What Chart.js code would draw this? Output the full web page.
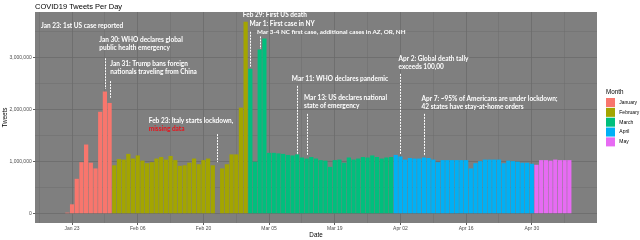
<!DOCTYPE html>
<html>
<head>
<meta charset="utf-8">
<script src="https://cdn.jsdelivr.net/npm/chart.js@4/dist/chart.umd.min.js"></script>
<style>
  body { margin: 0; background: #fff; }
  canvas { display: block; }
</style>
</head>
<body>
<canvas id="chart" width="640" height="240"></canvas>
<script>
// tweets per day (Feb 23 is missing in the source)
const months = ["January", "February", "March", "April", "May"];
const firstDay = ["2020-01-22", "2020-02-01", "2020-03-01", "2020-04-01", "2020-05-01"];
const colors = ["#F8766D", "#A3A500", "#00BF7D", "#00B0F6", "#E76BF3"];

const jan = [20000, 180000, 670000, 990000, 1330000, 980000, 870000, 1960000, 2350000, 2130000];
const feb = [930000, 1050000, 1040000, 1150000, 1060000, 1120000, 1020000, 970000, 990000, 1060000,
  1090000, 1040000, 1110000, 1030000, 920000, 930000, 980000, 1060000, 950000, 1030000,
  1060000, 930000, null, 870000, 950000, 1140000, 1140000, 2040000, 3690000];
const mar = [2790000, 1000000, 3160000, 3370000, 1170000, 1170000, 1160000, 1150000, 1130000, 1120000,
  1140000, 1080000, 1060000, 1090000, 1060000, 1030000, 1020000, 900000, 1030000, 1040000,
  980000, 1080000, 1040000, 1060000, 1090000, 1080000, 1120000, 1090000, 1060000, 1080000, 1090000];
const apr = [1130000, 1100000, 1040000, 1070000, 1060000, 1060000, 1080000, 1070000, 1040000, 990000,
  1030000, 1030000, 1030000, 1030000, 1030000, 1030000, 870000, 970000, 1010000, 1040000,
  1040000, 1040000, 1040000, 970000, 1020000, 1010000, 1000000, 980000, 980000, 960000];
const may = [940000, 1030000, 1030000, 1020000, 1040000, 1030000, 1030000, 1030000];
const series = [jan, feb, mar, apr, may];

// x axis counts days from Jan 23
const tickLabels = ["Jan 23", "Feb 06", "Feb 20", "Mar 05", "Mar 19", "Apr 02", "Apr 16", "Apr 30"];
const yTicks = [0, 500000, 1000000, 1500000, 2000000, 2500000, 3000000, 3500000];
const dayZero = Date.parse("2020-01-23");
function dayOf(d) { return Math.round((Date.parse(d) - dayZero) / 86400000); }

// event notes: text anchor (day, tweets) and the dashed line under it
const notes = [
  { tx: -6.6, ty: 3620000, text: ["Jan 23: 1st US case reported"] },
  { tx: 5.8, ty: 3350000, text: ["Jan 30: WHO declares global", "public health emergency"], date: "2020-01-30", line: [2990000, 2400000] },
  { tx: 8.15, ty: 2880000, text: ["Jan 31: Trump bans foreign", "nationals traveling from China"], date: "2020-01-31", line: [2550000, 2230000] },
  { tx: 16.35, ty: 1790000, text: ["Feb 23: Italy starts lockdown,", "missing data"], red: 1, date: "2020-02-23", line: [1530000, 990000] },
  { tx: 36.4, ty: 3820000, text: ["Feb 29: First US death"] },
  { tx: 37.8, ty: 3660000, text: ["Mar 1: First case in NY"], date: "2020-03-01", line: [3500000, 2830000] },
  { tx: 39.4, ty: 3500000, text: ["Mar 3-4 NC first case, additional cases in AZ, OR, NH"], size: 6.3, date: "2020-03-03", line: [3410000, 3170000] },
  { tx: 46.85, ty: 2600000, text: ["Mar 11: WHO declares pandemic"], date: "2020-03-11", line: [2460000, 1130000] },
  { tx: 49.45, ty: 2230000, text: ["Mar 13: US declares national", "state of emergency"], date: "2020-03-13", line: [1920000, 1130000] },
  { tx: 69.6, ty: 2980000, text: ["Apr 2: Global death tally", "exceeds 100,00"], date: "2020-04-02", line: [2690000, 1130000] },
  { tx: 74.5, ty: 2210000, text: ["Apr 7: ~95% of Americans are under lockdown;", "42 states have stay-at-home orders"], date: "2020-04-07", line: [1920000, 1110000] }
];

Chart.defaults.font.family = "'Liberation Sans', Arial, sans-serif";

const datasets = months.map((m, k) => ({
  label: m,
  backgroundColor: colors[k],
  data: series[k].map((v, i) => ({ x: dayOf(firstDay[k]) + i, y: v }))
}));

// grey panel behind the grid
const panelBg = {
  id: "panelBg",
  beforeDraw(chart) {
    const a = chart.chartArea;
    chart.ctx.save();
    chart.ctx.fillStyle = "#7f7f7f";
    chart.ctx.fillRect(a.left, a.top, a.right - a.left, a.bottom - a.top);
    chart.ctx.restore();
  }
};

const eventNotes = {
  id: "eventNotes",
  afterDatasetsDraw(chart) {
    const ctx = chart.ctx;
    const xs = chart.scales.x, ys = chart.scales.y;
    ctx.save();
    ctx.textBaseline = "middle";
    notes.forEach((n) => {
      const x = xs.getPixelForValue(n.tx);
      const y = ys.getPixelForValue(n.ty);
      ctx.font = "bold " + (n.size || 6.5) + "px Lato";
      n.text.forEach((t, i) => {
        ctx.fillStyle = n.red === i ? "#e8141b" : "#ffffff";
        ctx.fillText(t, x, y + i * 8.3);
      });
      if (n.line) {
        const lx = Math.round(xs.getPixelForValue(dayOf(n.date))) + 0.5;
        ctx.strokeStyle = "#ffffff";
        ctx.lineWidth = 1;
        ctx.setLineDash([2, 1]);
        ctx.beginPath();
        ctx.moveTo(lx, ys.getPixelForValue(n.line[0]));
        ctx.lineTo(lx, ys.getPixelForValue(n.line[1]));
        ctx.stroke();
      }
    });
    ctx.restore();
  }
};

// ggplot style legend on the right
const monthLegend = {
  id: "monthLegend",
  afterDraw(chart) {
    const ctx = chart.ctx;
    const a = chart.chartArea;
    const x = a.right + 9;
    let y = (a.top + a.bottom) / 2 - 25;
    ctx.save();
    ctx.textBaseline = "middle";
    ctx.fillStyle = "#000";
    ctx.font = "6.3px 'Liberation Sans'";
    ctx.fillText("Month", x, y);
    y += 5.5;
    ctx.font = "5px 'Liberation Sans'";
    months.forEach((m, k) => {
      ctx.fillStyle = colors[k];
      ctx.fillRect(x, y + k * 9.85, 9, 9);
      ctx.fillStyle = "#000";
      ctx.fillText(m, x + 13.3, y + k * 9.85 + 4.5);
    });
    ctx.restore();
  }
};

const gridColor = "#6b6b6b";

new Chart(document.getElementById("chart"), {
  type: "bar",
  data: { datasets },
  options: {
    responsive: false,
    animation: false,
    devicePixelRatio: 1,
    layout: { padding: { top: 0, right: 43, bottom: 0, left: 0 } },
    datasets: { bar: { grouped: false, barPercentage: 0.9, categoryPercentage: 1, borderWidth: 0 } },
    plugins: {
      legend: { display: false },
      tooltip: { enabled: false },
      title: {
        display: true,
        text: "COVID19 Tweets Per Day",
        align: "start",
        fullSize: false,
        color: "#000",
        font: { size: 7.5, weight: "normal" },
        padding: { top: 2, bottom: 1 }
      }
    },
    scales: {
      x: {
        type: "linear",
        min: -7.9,
        max: 111.9,
        offset: false,
        border: { display: false },
        grid: {
          offset: false,
          color: gridColor,
          lineWidth: (c) => (c.tick && c.tick.value % 14 === 0 ? 0.8 : 0.4),
          tickColor: (c) => (c.tick && c.tick.value % 14 === 0 ? "#333333" : "rgba(0,0,0,0)"),
          tickLength: 2
        },
        afterBuildTicks: (s) => {
          const t = [];
          for (let d = -7; d <= 105; d += 7) t.push({ value: d });
          s.ticks = t;
        },
        ticks: {
          autoSkip: false,
          maxRotation: 0,
          padding: 1,
          color: "#4d4d4d",
          font: { size: 5 },
          callback: (v) => (v % 14 === 0 ? tickLabels[v / 14] : "")
        },
        title: { display: true, text: "Date", color: "#000", font: { size: 6.3 }, padding: { top: 0, bottom: 0.5 } },
        afterFit: (s) => { s.height = 17; }
      },
      y: {
        min: -180000,
        max: 3880000,
        border: { display: false },
        grid: {
          color: gridColor,
          lineWidth: (c) => (c.tick && c.tick.value % 1000000 === 0 ? 0.8 : 0.4),
          tickColor: (c) => (c.tick && c.tick.value % 1000000 === 0 ? "#333333" : "rgba(0,0,0,0)"),
          tickLength: 2
        },
        afterBuildTicks: (s) => { s.ticks = yTicks.map((v) => ({ value: v })); },
        ticks: {
          autoSkip: false,
          padding: 1.3,
          color: "#4d4d4d",
          font: { size: 5 },
          callback: (v) => (v % 1000000 === 0 ? v.toLocaleString("en-US") : "")
        },
        title: { display: true, text: "Tweets", color: "#000", font: { size: 6.3 }, padding: { top: 1.5, bottom: 0 } },
        afterFit: (s) => { s.width = 35; }
      }
    }
  },
  plugins: [panelBg, eventNotes, monthLegend]
});
</script>
</body>
</html>
